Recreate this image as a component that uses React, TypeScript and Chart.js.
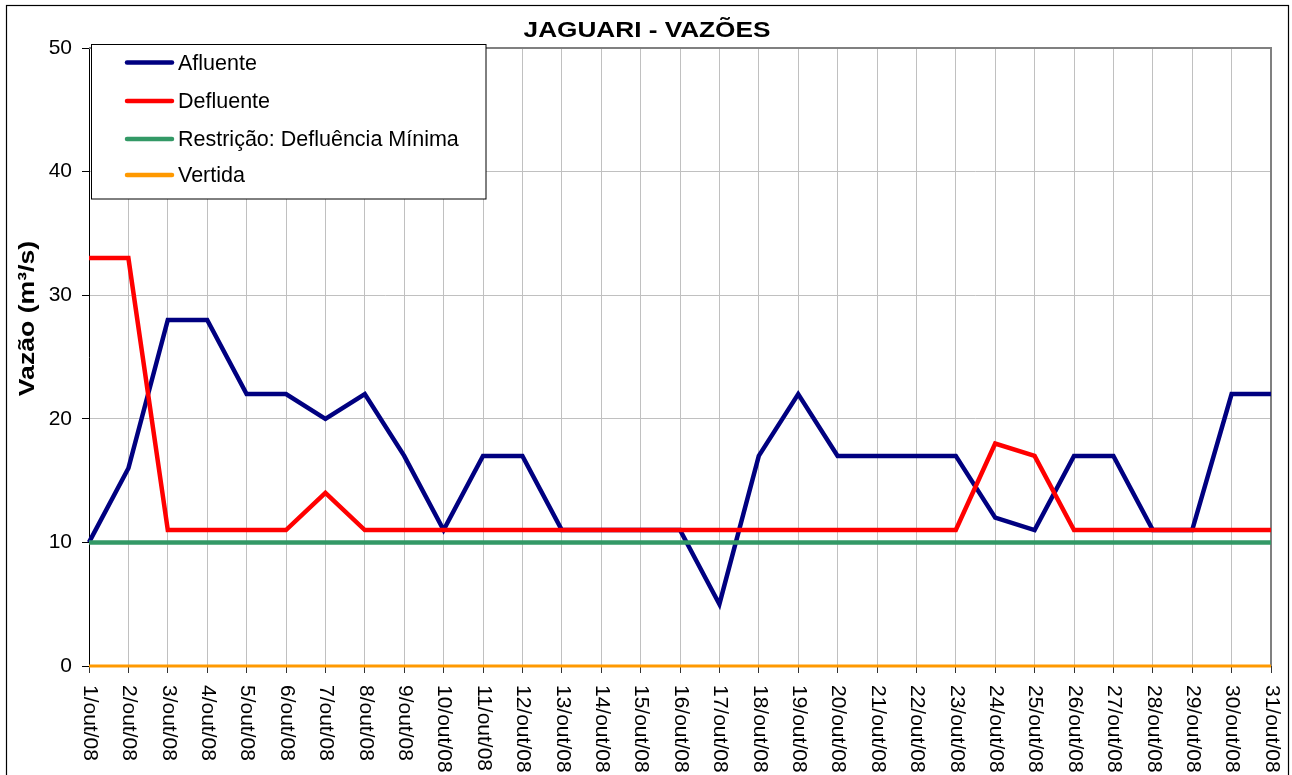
import { useEffect, useRef } from "react";
import { Chart, registerables } from "chart.js";

Chart.register(...registerables);

const chartTitle = "JAGUARI - VAZÕES";
const yAxisTitle = "Vazão (m³/s)";

const days = [
  "1/out/08", "2/out/08", "3/out/08", "4/out/08", "5/out/08", "6/out/08", "7/out/08",
  "8/out/08", "9/out/08", "10/out/08", "11/out/08", "12/out/08", "13/out/08", "14/out/08",
  "15/out/08", "16/out/08", "17/out/08", "18/out/08", "19/out/08", "20/out/08", "21/out/08",
  "22/out/08", "23/out/08", "24/out/08", "25/out/08", "26/out/08", "27/out/08", "28/out/08",
  "29/out/08", "30/out/08", "31/out/08",
];

const afluente = [10, 16, 28, 28, 22, 22, 20, 22, 17, 11, 17, 17, 11, 11, 11, 11, 5, 17, 22, 17, 17, 17, 17, 12, 11, 17, 17, 11, 11, 22, 22];
const defluente = [33, 33, 11, 11, 11, 11, 14, 11, 11, 11, 11, 11, 11, 11, 11, 11, 11, 11, 11, 11, 11, 11, 11, 18, 17, 11, 11, 11, 11, 11, 11];
const restricao = [10, 10, 10, 10, 10, 10, 10, 10, 10, 10, 10, 10, 10, 10, 10, 10, 10, 10, 10, 10, 10, 10, 10, 10, 10, 10, 10, 10, 10, 10, 10];
const vertida = [0, 0, 0, 0, 0, 0, 0, 0, 0, 0, 0, 0, 0, 0, 0, 0, 0, 0, 0, 0, 0, 0, 0, 0, 0, 0, 0, 0, 0, 0, 0];

const seriesNames = ["Afluente", "Defluente", "Restrição: Defluência Mínima", "Vertida"];
const seriesColors = ["#000080", "#FF0000", "#339966", "#FF9900"];

const yMin = 0;
const yMax = 50;
const yStep = 10;

const FONT = '"Liberation Sans", Arial, sans-serif';

const decorPlugin = {
  id: "decor",
  beforeDatasetsDraw(chart: any) {
    const { ctx, chartArea: a } = chart;
    ctx.save();
    ctx.strokeStyle = "#808080";
    ctx.lineWidth = 2;
    ctx.beginPath();
    ctx.moveTo(a.left, a.top);
    ctx.lineTo(a.right, a.top);
    ctx.lineTo(a.right, a.bottom);
    ctx.stroke();
    ctx.restore();
  },
  afterDraw(chart: any) {
    const { ctx } = chart;
    ctx.save();

    // outer frame
    ctx.strokeStyle = "#000";
    ctx.lineWidth = 1.2;
    ctx.strokeRect(6.5, 5.5, 1282, 800);

    // title
    ctx.fillStyle = "#000";
    ctx.font = `bold 22px ${FONT}`;
    ctx.textAlign = "center";
    ctx.textBaseline = "alphabetic";
    ctx.save();
    ctx.translate(647, 37);
    ctx.scale(1.19, 1);
    ctx.fillText(chartTitle, 0, 0);
    ctx.restore();

    // y axis title
    ctx.save();
    ctx.translate(34, 318.5);
    ctx.rotate(-Math.PI / 2);
    ctx.scale(1.21, 1);
    ctx.fillText(yAxisTitle, 0, 0);
    ctx.restore();

    // x tick labels, rotated clockwise
    const xs = chart.scales.x;
    ctx.font = `21px ${FONT}`;
    ctx.textAlign = "left";
    ctx.textBaseline = "middle";
    (chart.data.labels as string[]).forEach((lab, i) => {
      const x = xs.getPixelForTick(i);
      ctx.save();
      ctx.translate(x + 0.5, 685);
      ctx.rotate(Math.PI / 2);
      ctx.fillText(lab, 0, 0);
      ctx.restore();
    });

    // legend box
    ctx.fillStyle = "#fff";
    ctx.fillRect(91.5, 44.5, 394.5, 154.5);
    ctx.strokeStyle = "#000";
    ctx.lineWidth = 1;
    ctx.strokeRect(91.5, 44.5, 394.5, 154.5);
    const rowsY = [62.5, 101, 139, 175];
    ctx.font = `21.5px ${FONT}`;
    ctx.textAlign = "left";
    ctx.textBaseline = "alphabetic";
    chart.data.datasets.forEach((ds: any, i: number) => {
      const y = rowsY[i];
      ctx.strokeStyle = ds.borderColor;
      ctx.lineWidth = 4.5;
      ctx.lineCap = "round";
      ctx.beginPath();
      ctx.moveTo(127, y);
      ctx.lineTo(172, y);
      ctx.stroke();
      ctx.fillStyle = "#000";
      ctx.fillText(ds.label, 178, y + 7);
    });

    ctx.restore();
  },
};

export default function App() {
  const ref = useRef<HTMLCanvasElement>(null);

  useEffect(() => {
    document.body.style.margin = "0";
    document.body.style.overflow = "hidden";
    const seriesData = [afluente, defluente, restricao, vertida];
    const widths = [4.5, 4.5, 4.5, 3];
    const chart = new Chart(ref.current as HTMLCanvasElement, {
      type: "line",
      data: {
        labels: days,
        datasets: seriesNames.map((name, i) => ({
          label: name,
          data: seriesData[i],
          borderColor: seriesColors[i],
          backgroundColor: seriesColors[i],
          borderWidth: widths[i],
          pointRadius: 0,
          pointHoverRadius: 0,
          tension: 0,
          fill: false,
          clip: false as any,
          order: 4 - i,
        })),
      },
      options: {
        animation: false,
        responsive: false,
        events: [],
        layout: { padding: { top: 48, right: 21, bottom: 0, left: 0 } },
        plugins: {
          legend: { display: false },
          title: { display: false },
          tooltip: { enabled: false },
        },
        scales: {
          x: {
            type: "category",
            offset: false,
            grid: {
              offset: false,
              color: "#c0c0c0",
              lineWidth: 1,
              tickColor: "#333",
              tickLength: 7,
              drawTicks: true,
            },
            border: { color: "#333", width: 1 },
            ticks: { display: false, autoSkip: false },
            afterFit: (scale: any) => {
              scale.height = 109;
            },
          },
          y: {
            min: yMin,
            max: yMax,
            grid: {
              color: "#c0c0c0",
              lineWidth: 1,
              tickColor: "#000",
              tickLength: 7,
            },
            border: { color: "#000", width: 1 },
            ticks: {
              stepSize: yStep,
              color: "#000",
              padding: 10,
              font: { family: FONT, size: 21 },
            },
            afterFit: (scale: any) => {
              scale.width = 89;
            },
          },
        },
      },
      plugins: [decorPlugin],
    });
    return () => chart.destroy();
  }, []);

  return <canvas ref={ref} width={1292} height={775} style={{ display: "block" }} />;
}
